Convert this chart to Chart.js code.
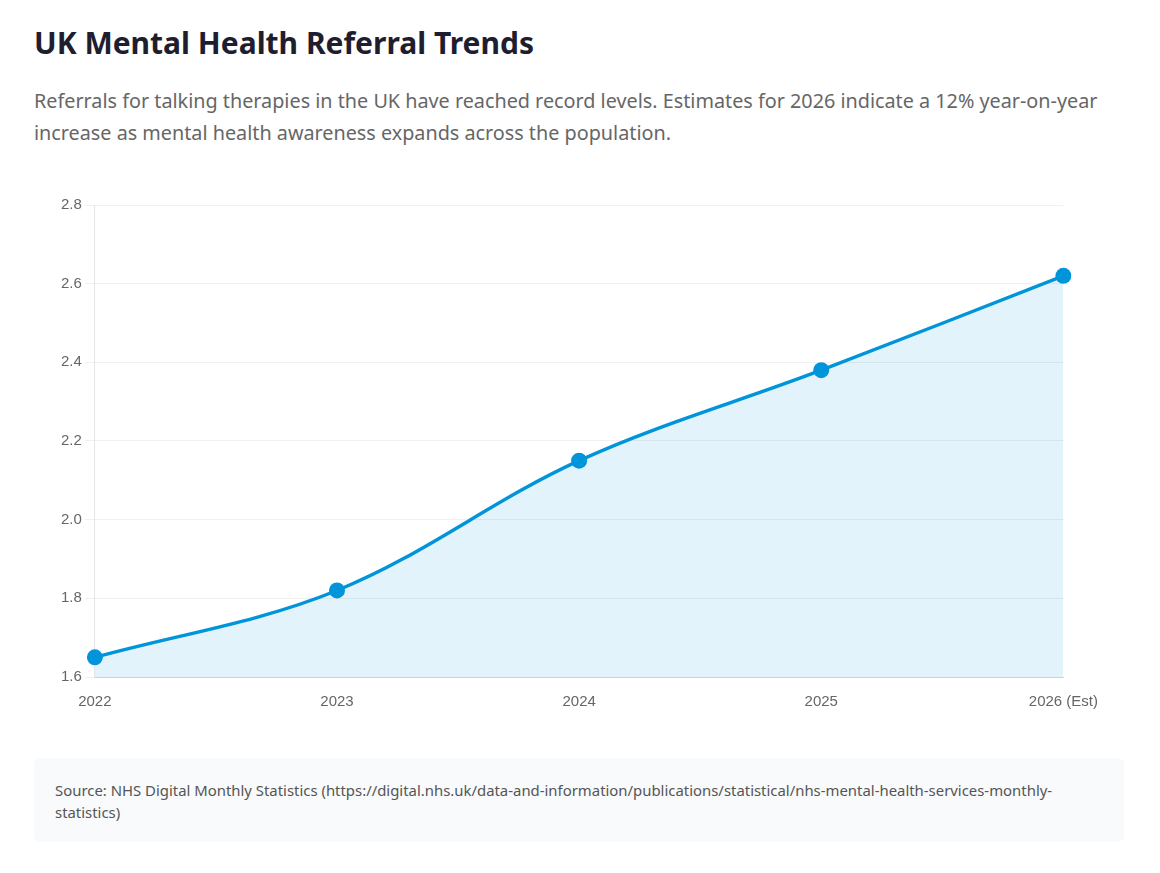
<!DOCTYPE html>
<html>
<head>
<meta charset="utf-8">
<script src="https://cdn.jsdelivr.net/npm/chart.js@4.4.0/dist/chart.umd.min.js"></script>
<style>
    body {
        margin: 0;
        padding: 22px 34px;
        font-family: "Segoe UI", "Noto Sans", sans-serif;
        background: #fff;
    }
    h1 {
        margin: 0 0 22px 0;
        font-size: 30px;
        font-weight: 700;
        color: #1e1e2e;
    }
    .subtitle {
        margin: 0 0 44px 0;
        font-size: 19.8px;
        line-height: 32px;
        color: #666;
    }
    .chart-wrap {
        position: relative;
        height: 526px;
        width: 1072px;
    }
    .source {
        margin-top: 39px;
        background: #f8fafc;
        border-radius: 6px;
        padding: 21px 21px 19px 21px;
        font-size: 14.9px;
        line-height: 22px;
        color: #555;
        width: 1048px;
    }
</style>
</head>
<body>
<h1>UK Mental Health Referral Trends</h1>
<p class="subtitle">Referrals for talking therapies in the UK have reached record levels. Estimates for 2026 indicate a 12% year-on-year increase as mental health awareness expands across the population.</p>
<div class="chart-wrap"><canvas id="chart"></canvas></div>
<div class="source">Source: NHS Digital Monthly Statistics (https://digital.nhs.uk/data-and-information/publications/statistical/nhs-mental-health-services-monthly-statistics)</div>

<script>
// Referrals (millions) per year
const years = ['2022', '2023', '2024', '2025', '2026 (Est)'];
const referrals = [1.65, 1.82, 2.15, 2.38, 2.62];
const yTicks = [1.6, 1.8, 2.0, 2.2, 2.4, 2.6, 2.8];

const blue = '#0095da';

new Chart(document.getElementById('chart'), {
    type: 'line',
    data: {
        labels: years,
        datasets: [{
            data: referrals,
            borderColor: blue,
            backgroundColor: 'rgba(0, 149, 218, 0.11)',
            borderWidth: 3.4,
            fill: true,
            tension: 0.35,
            pointRadius: 8,
            pointBackgroundColor: blue,
            pointBorderColor: blue,
            pointBorderWidth: 0
        }]
    },
    options: {
        responsive: true,
        maintainAspectRatio: false,
        animation: false,
        layout: { padding: { left: 24, right: 24, top: 9 } },
        plugins: { legend: { display: false }, tooltip: { enabled: false } },
        scales: {
            x: {
                offset: false,
                grid: { display: false },
                border: { color: '#c8d3dc' },
                ticks: { color: '#666', font: { size: 15 }, padding: 8, maxRotation: 0 }
            },
            y: {
                min: 1.6,
                max: 2.8,
                afterBuildTicks: axis => { axis.ticks = yTicks.map(v => ({ value: v })); },
                grid: { color: '#f0f0f0', tickLength: 10 },
                border: { color: '#e5e5e5' },
                ticks: {
                    color: '#666',
                    font: { size: 15 },
                    padding: 3,
                    callback: v => v.toFixed(1)
                }
            }
        }
    }
});
</script>
</body>
</html>
